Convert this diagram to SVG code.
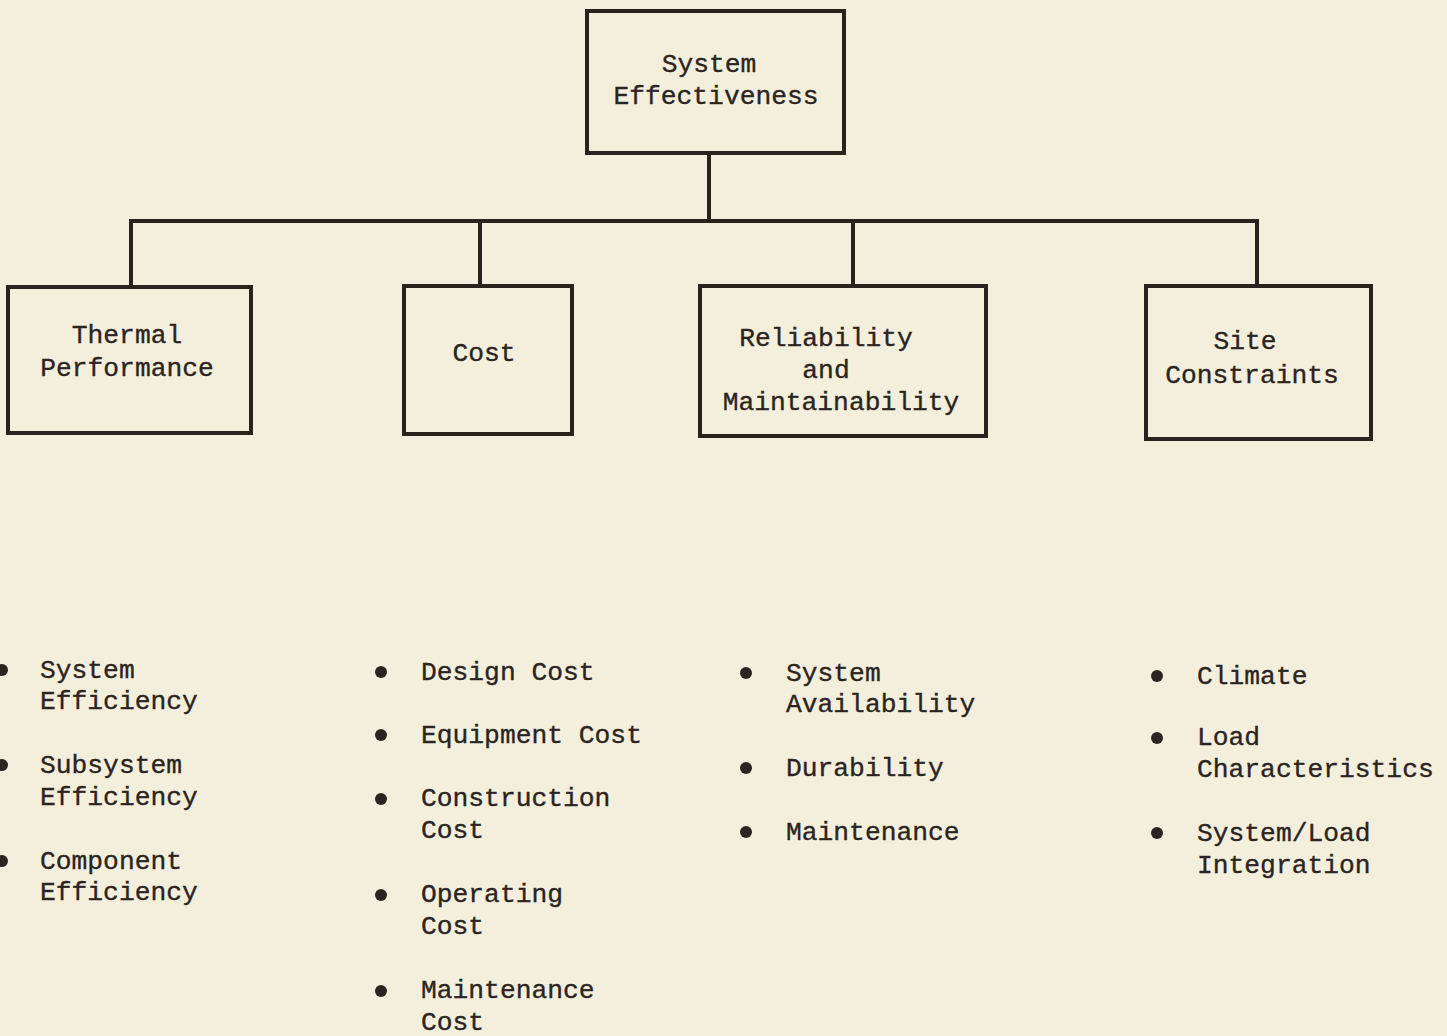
<svg xmlns="http://www.w3.org/2000/svg" width="1447" height="1036" viewBox="0 0 1447 1036">
<style>
.bg{fill:#f4efdc}
.box{fill:#f4efdc;stroke:#2a221c;stroke-width:4}
.ln{fill:none;stroke:#2a221c;stroke-width:4}
text{font-family:"Liberation Mono","DejaVu Sans Mono",monospace;font-size:26.3px;fill:#2b2420;stroke:#2b2420;stroke-width:0.35px}
.c{text-anchor:middle}
.dot{fill:#2b2420}
</style>
<rect class="bg" x="0" y="0" width="1447" height="1036"/>
<g id="connectors">
<line class="ln" x1="709" y1="153" x2="709" y2="221"/>
<line class="ln" x1="129" y1="221" x2="1259" y2="221"/>
<line class="ln" x1="131" y1="221" x2="131" y2="287"/>
<line class="ln" x1="480" y1="221" x2="480" y2="286"/>
<line class="ln" x1="853" y1="221" x2="853" y2="286"/>
<line class="ln" x1="1257" y1="221" x2="1257" y2="286"/>
</g>
<g id="system-effectiveness">
<rect class="box" x="587" y="11" width="257" height="142"/>
<text class="c" x="709" y="72">System</text>
<text class="c" x="716" y="104">Effectiveness</text>
</g>
<g id="thermal-performance">
<rect class="box" x="8" y="287" width="243" height="146"/>
<text class="c" x="127" y="343">Thermal</text>
<text class="c" x="127" y="376">Performance</text>
</g>
<g id="cost">
<rect class="box" x="404" y="286" width="168" height="148"/>
<text class="c" x="484" y="361">Cost</text>
</g>
<g id="reliability">
<rect class="box" x="700" y="286" width="286" height="150"/>
<text class="c" x="826" y="346">Reliability</text>
<text class="c" x="826" y="378">and</text>
<text class="c" x="841" y="410">Maintainability</text>
</g>
<g id="site-constraints">
<rect class="box" x="1146" y="286" width="225" height="153"/>
<text class="c" x="1245" y="349">Site</text>
<text class="c" x="1252" y="383">Constraints</text>
</g>
<g id="thermal-list">
<circle class="dot" cx="2" cy="670" r="6"/>
<text x="40" y="678">System</text>
<text x="40" y="709">Efficiency</text>
<circle class="dot" cx="2" cy="765" r="6"/>
<text x="40" y="773">Subsystem</text>
<text x="40" y="805">Efficiency</text>
<circle class="dot" cx="2" cy="861" r="6"/>
<text x="40" y="869">Component</text>
<text x="40" y="900">Efficiency</text>
</g>
<g id="cost-list">
<circle class="dot" cx="381" cy="672" r="6"/>
<text x="421" y="680">Design Cost</text>
<circle class="dot" cx="381" cy="735" r="6"/>
<text x="421" y="743">Equipment Cost</text>
<circle class="dot" cx="381" cy="799" r="6"/>
<text x="421" y="806">Construction</text>
<text x="421" y="838">Cost</text>
<circle class="dot" cx="381" cy="895" r="6"/>
<text x="421" y="902">Operating</text>
<text x="421" y="934">Cost</text>
<circle class="dot" cx="381" cy="991" r="6"/>
<text x="421" y="998">Maintenance</text>
<text x="421" y="1030">Cost</text>
</g>
<g id="reliability-list">
<circle class="dot" cx="746" cy="673" r="6"/>
<text x="786" y="681">System</text>
<text x="786" y="712">Availability</text>
<circle class="dot" cx="746" cy="768" r="6"/>
<text x="786" y="776">Durability</text>
<circle class="dot" cx="746" cy="832" r="6"/>
<text x="786" y="840">Maintenance</text>
</g>
<g id="site-list">
<circle class="dot" cx="1157" cy="676" r="6"/>
<text x="1197" y="684">Climate</text>
<circle class="dot" cx="1157" cy="738" r="6"/>
<text x="1197" y="745">Load</text>
<text x="1197" y="777">Characteristics</text>
<circle class="dot" cx="1157" cy="833" r="6"/>
<text x="1197" y="841">System/Load</text>
<text x="1197" y="873">Integration</text>
</g>
</svg>
